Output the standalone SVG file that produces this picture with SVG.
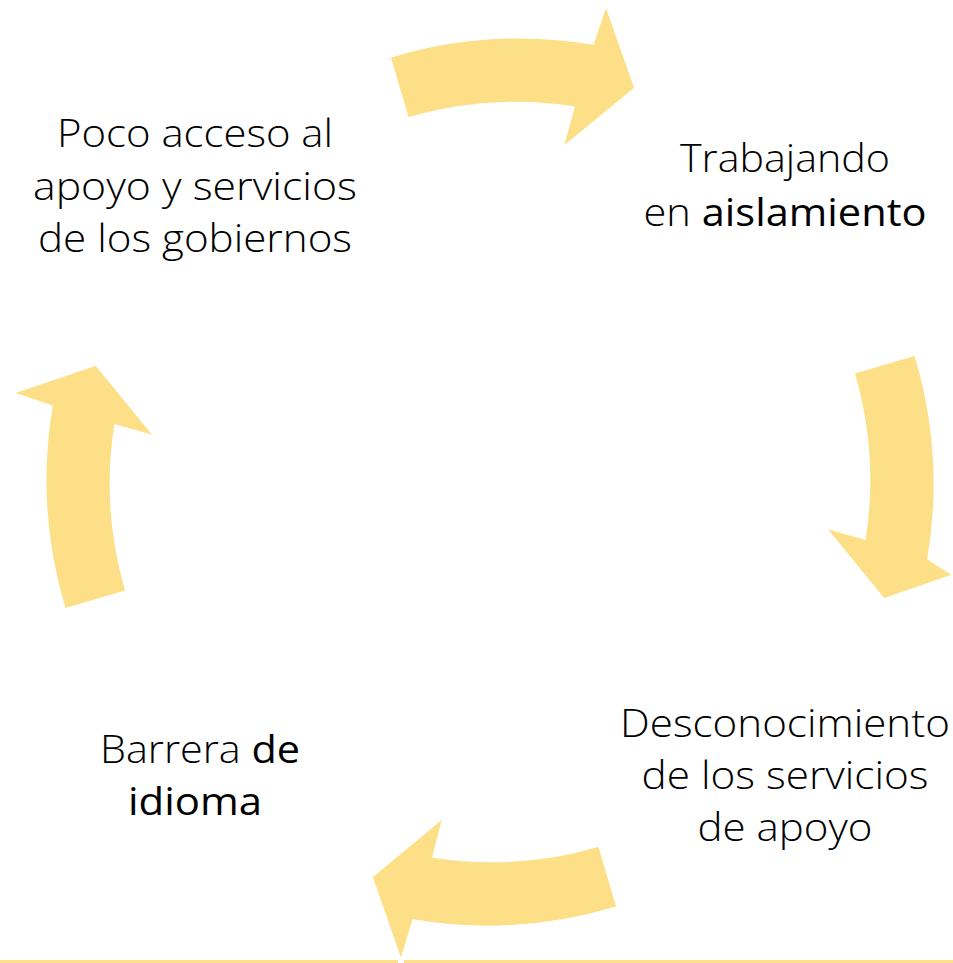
<svg xmlns="http://www.w3.org/2000/svg" width="953" height="963" viewBox="0 0 953 963">
<style>
.lbl{font-family:"Open Sans","Liberation Sans",sans-serif;font-size:39px;font-weight:300;fill:#000;text-anchor:middle}
.b{font-weight:400}
.arr{fill:#FCDF86;stroke:#fff;stroke-width:1.5;stroke-linejoin:miter}
.base{fill:#FCDF86}
</style>
<rect width="953" height="963" fill="#fff"/>
<g id="baseline">
<rect class="base" x="0" y="960" width="398" height="3"/>
<rect class="base" x="404" y="960" width="549" height="3"/>
</g>
<g id="connectors">
<path class="arr" d="M390,57 L408,118 A380,380 0 0 1 574,107 L563,147 L635,88 L606,6 L593,44 A445,445 0 0 0 390,57 Z"/>
<path class="arr" d="M854,373 L915,355 A445,445 0 0 1 928,559 L953,575 L884,599 L826,528 L865,539 A380,380 0 0 0 854,373 Z"/>
<path class="arr" d="M599,846 L617,907 A445,445 0 0 1 413,920 L401,960 L372,877 L443,818 L433,857 A380,380 0 0 0 599,846 Z"/>
<path class="arr" d="M65,609 L126,591 A380,380 0 0 1 115,425 L154,436 L96,365 L13,393 L52,406 A445,445 0 0 0 65,609 Z"/>
</g>
<g id="node-acceso">
<text class="lbl" x="195" y="147" textLength="276" lengthAdjust="spacingAndGlyphs">Poco acceso al</text>
<text class="lbl" x="195" y="200" textLength="324" lengthAdjust="spacingAndGlyphs">apoyo y servicios</text>
<text class="lbl" x="195" y="252" textLength="314" lengthAdjust="spacingAndGlyphs">de los gobiernos</text>
</g>
<g id="node-aislamiento">
<text class="lbl" x="785" y="172" textLength="210" lengthAdjust="spacingAndGlyphs">Trabajando</text>
<text class="lbl" x="785" y="226" textLength="283" lengthAdjust="spacingAndGlyphs">en <tspan class="b">aislamiento</tspan></text>
</g>
<g id="node-desconocimiento">
<text class="lbl" x="785" y="737" textLength="330" lengthAdjust="spacingAndGlyphs">Desconocimiento</text>
<text class="lbl" x="785" y="789" textLength="287" lengthAdjust="spacingAndGlyphs">de los servicios</text>
<text class="lbl" x="785" y="841" textLength="175" lengthAdjust="spacingAndGlyphs">de apoyo</text>
</g>
<g id="node-idioma">
<text class="lbl" x="200" y="763" textLength="200" lengthAdjust="spacingAndGlyphs">Barrera <tspan class="b">de</tspan></text>
<text class="lbl b" x="195" y="815" textLength="134" lengthAdjust="spacingAndGlyphs">idioma</text>
</g>
</svg>
